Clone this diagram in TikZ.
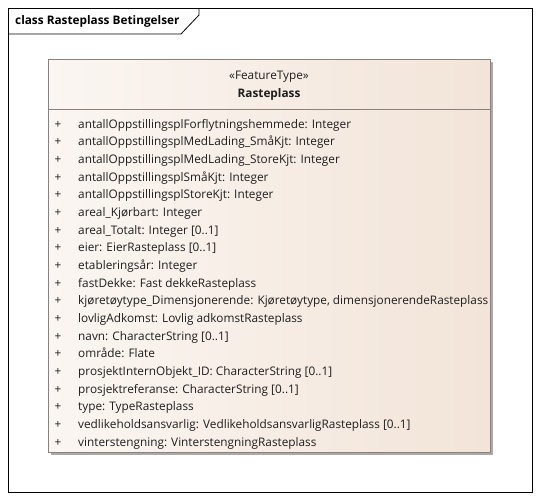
\documentclass[tikz,border=0pt]{standalone}
\usepackage{fontspec}
\setmainfont{Open Sans}
\definecolor{boxline}{RGB}{140,128,122}
\definecolor{boxleft}{RGB}{251,246,242}
\definecolor{boxright}{RGB}{242,228,216}
\definecolor{attrtext}{RGB}{30,30,30}
\definecolor{shadowgray}{RGB}{170,170,170}
\tikzset{
  attr/.style={anchor=base west, inner sep=0pt, font=\fontsize{11.8}{13}\selectfont, text=attrtext},
  vis/.style={anchor=base, inner sep=0pt, font=\fontsize{11.8}{13}\selectfont, text=attrtext}
}
\begin{document}
\begin{tikzpicture}[x=1pt, y=-1pt]
          \useasboundingbox (0,0) rectangle (540,501);
          % frame and title tab
          \draw [line width=0.8pt] (8,8) rectangle (532,492);
          \draw [line width=0.8pt] (8,34) -- (181,34) -- (199,15) -- (199,8);
          \node [anchor=west, inner sep=0pt, font=\fontsize{11.8}{13}\selectfont\bfseries] (title) at (15,21) {class Rasteplass Betingelser};
          % class box
          \fill [shadowgray] (51,62) rectangle (493,455);
          \shade [left color=boxleft, right color=boxright, draw=boxline, line width=0.8pt] (48,59) rectangle (490,452);
          \draw [boxline, line width=0.8pt] (48,109) -- (490,109);
          \node [anchor=base, inner sep=0pt, font=\fontsize{11.8}{13}\selectfont, text=attrtext] (stereo) at (269,79) {«FeatureType»};
          \node [anchor=base, inner sep=0pt, font=\fontsize{11.8}{13}\selectfont\bfseries, text=attrtext] (name) at (269,97) {Rasteplass};
          % attributes
          \node [vis] (p1) at (58,128) {+};
          \node [attr] (a1) at (78,128) {antallOppstillingsplForflytningshemmede: Integer};
          \node [vis] (p2) at (58,145.7) {+};
          \node [attr] (a2) at (78,145.7) {antallOppstillingsplMedLading\_SmåKjt: Integer};
          \node [vis] (p3) at (58,163.3) {+};
          \node [attr] (a3) at (78,163.3) {antallOppstillingsplMedLading\_StoreKjt: Integer};
          \node [vis] (p4) at (58,181) {+};
          \node [attr] (a4) at (78,181) {antallOppstillingsplSmåKjt: Integer};
          \node [vis] (p5) at (58,198.7) {+};
          \node [attr] (a5) at (78,198.7) {antallOppstillingsplStoreKjt: Integer};
          \node [vis] (p6) at (58,216.3) {+};
          \node [attr] (a6) at (78,216.3) {areal\_Kjørbart: Integer};
          \node [vis] (p7) at (58,234) {+};
          \node [attr] (a7) at (78,234) {areal\_Totalt: Integer [0..1]};
          \node [vis] (p8) at (58,251.7) {+};
          \node [attr] (a8) at (78,251.7) {eier: EierRasteplass [0..1]};
          \node [vis] (p9) at (58,269.3) {+};
          \node [attr] (a9) at (78,269.3) {etableringsår: Integer};
          \node [vis] (p10) at (58,287) {+};
          \node [attr] (a10) at (78,287) {fastDekke: Fast dekkeRasteplass};
          \node [vis] (p11) at (58,304.7) {+};
          \node [attr] (a11) at (78,304.7) {kjøretøytype\_Dimensjonerende: Kjøretøytype, dimensjonerendeRasteplass};
          \node [vis] (p12) at (58,322.3) {+};
          \node [attr] (a12) at (78,322.3) {lovligAdkomst: Lovlig adkomstRasteplass};
          \node [vis] (p13) at (58,340) {+};
          \node [attr] (a13) at (78,340) {navn: CharacterString [0..1]};
          \node [vis] (p14) at (58,357.7) {+};
          \node [attr] (a14) at (78,357.7) {område: Flate};
          \node [vis] (p15) at (58,375.3) {+};
          \node [attr] (a15) at (78,375.3) {prosjektInternObjekt\_ID: CharacterString [0..1]};
          \node [vis] (p16) at (58,393) {+};
          \node [attr] (a16) at (78,393) {prosjektreferanse: CharacterString [0..1]};
          \node [vis] (p17) at (58,410.7) {+};
          \node [attr] (a17) at (78,410.7) {type: TypeRasteplass};
          \node [vis] (p18) at (58,428.3) {+};
          \node [attr] (a18) at (78,428.3) {vedlikeholdsansvarlig: VedlikeholdsansvarligRasteplass [0..1]};
          \node [vis] (p19) at (58,446) {+};
          \node [attr] (a19) at (78,446) {vinterstengning: VinterstengningRasteplass};
        \end{tikzpicture}
\end{document}
